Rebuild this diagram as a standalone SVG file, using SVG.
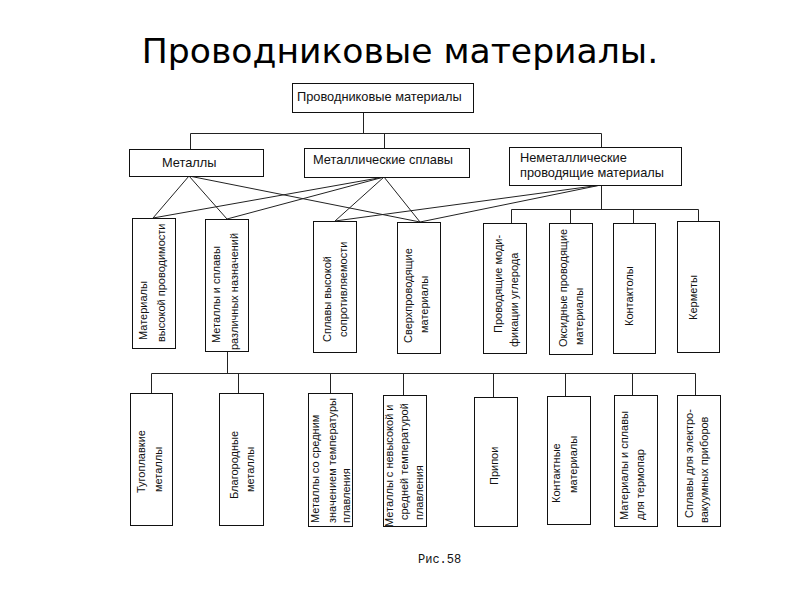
<svg xmlns="http://www.w3.org/2000/svg" width="800" height="600" viewBox="0 0 800 600">
<style>
.box{fill:#fff;stroke:#111;stroke-width:1}
.t{font-family:"Liberation Sans",Arial,sans-serif;font-size:12.8px;fill:#111}
.v{font-family:"Liberation Sans",Arial,sans-serif;font-size:11px;fill:#111}
.ln{stroke:#222;stroke-width:1;fill:none}
.title{font-family:"DejaVu Sans",sans-serif;font-size:34.6px;fill:#000}
.cap{font-family:"Liberation Mono","Courier New",monospace;font-size:12px;fill:#111}
</style>
<rect width="800" height="600" fill="#fff"/>
<text class="title" x="400" y="63" text-anchor="middle">Проводниковые материалы.</text>

<g id="connectors">
<path class="ln" d="M363.5 112V133.5M190.5 133.5H601.5M190.5 133.5V149M384.5 133.5V148M601.5 133.5V147"/>
<path class="ln" d="M189 176L153 218M189 176L227 219M189 176L420 222"/>
<path class="ln" d="M384 177L153 218M384 177L227 219M384 177L335 221M384 177L420 222"/>
<path class="ln" d="M601 185L335 221M601 185L420 222"/>
<path class="ln" d="M601.5 185V209.5M511.5 209.5H698.5M511.5 209.5V223M570.5 209.5V223M633.5 209.5V223M698.5 209.5V221"/>
<path class="ln" d="M227.5 351V373.5M151.5 373.5H695.5M151.5 373.5V393M238.5 373.5V393M330.5 373.5V393M403.5 373.5V395M493.5 373.5V397M565.5 373.5V396M632.5 373.5V395M695.5 373.5V395"/>
</g>

<g id="root">
<rect class="box" x="292.5" y="83.5" width="181" height="29"/>
<text class="t" x="297" y="101">Проводниковые материалы</text>
</g>
<g id="metals">
<rect class="box" x="129.5" y="149.5" width="134" height="27"/>
<text class="t" x="162" y="167">Металлы</text>
</g>
<g id="alloys">
<rect class="box" x="304.5" y="148.5" width="165" height="29"/>
<text class="t" x="313" y="164">Металлические сплавы</text>
</g>
<g id="nonmetal">
<rect class="box" x="509.5" y="147.5" width="172" height="38"/>
<text class="t" x="520" y="162">Неметаллические</text>
<text class="t" x="520" y="177">проводящие материалы</text>
</g>

<g id="m1">
<rect class="box" x="132.5" y="218.5" width="43" height="130"/>
<text class="v" transform="translate(147,340) rotate(-90)">Материалы</text>
<text class="v" transform="translate(165,342) rotate(-90)">высокой проводимости</text>
</g>
<g id="m2">
<rect class="box" x="205.5" y="219.5" width="43" height="132"/>
<text class="v" transform="translate(220,343) rotate(-90)">Металлы и сплавы</text>
<text class="v" transform="translate(238,350) rotate(-90)">различных назначений</text>
</g>
<g id="m3">
<rect class="box" x="313.5" y="221.5" width="43" height="131"/>
<text class="v" transform="translate(331,342) rotate(-90)">Сплавы высокой</text>
<text class="v" transform="translate(347,337) rotate(-90)">сопротивляемости</text>
</g>
<g id="m4">
<rect class="box" x="397.5" y="222.5" width="43" height="131"/>
<text class="v" transform="translate(412,343) rotate(-90)">Сверхпроводящие</text>
<text class="v" transform="translate(428,333) rotate(-90)">материалы</text>
</g>
<g id="m5">
<rect class="box" x="483.5" y="223.5" width="43" height="130"/>
<text class="v" transform="translate(502,333) rotate(-90)">Проводящие моди-</text>
<text class="v" transform="translate(518,347) rotate(-90)">фикации углерода</text>
</g>
<g id="m6">
<rect class="box" x="549.5" y="223.5" width="43" height="131"/>
<text class="v" transform="translate(567,347) rotate(-90)">Оксидные проводящие</text>
<text class="v" transform="translate(583,345) rotate(-90)">материалы</text>
</g>
<g id="m7">
<rect class="box" x="613.5" y="223.5" width="42" height="130"/>
<text class="v" transform="translate(633,326) rotate(-90)">Контактолы</text>
</g>
<g id="m8">
<rect class="box" x="677.5" y="221.5" width="42" height="131"/>
<text class="v" transform="translate(697,320) rotate(-90)">Керметы</text>
</g>

<g id="b1">
<rect class="box" x="130.5" y="393.5" width="42" height="132"/>
<text class="v" transform="translate(145,493) rotate(-90)">Тугоплавкие</text>
<text class="v" transform="translate(162,492) rotate(-90)">металлы</text>
</g>
<g id="b2">
<rect class="box" x="219.5" y="393.5" width="44" height="132"/>
<text class="v" transform="translate(238,499) rotate(-90)">Благородные</text>
<text class="v" transform="translate(254,492) rotate(-90)">металлы</text>
</g>
<g id="b3">
<rect class="box" x="308.5" y="393.5" width="44" height="133"/>
<text class="v" transform="translate(319,523) rotate(-90)">Металлы со средним</text>
<text class="v" transform="translate(336,523) rotate(-90)">значением температуры</text>
<text class="v" transform="translate(350,523) rotate(-90)">плавления</text>
</g>
<g id="b4">
<rect class="box" x="383.5" y="395.5" width="43" height="131"/>
<text class="v" transform="translate(393,527) rotate(-90)">Металлы с невысокой и</text>
<text class="v" transform="translate(408,520) rotate(-90)">средней температурой</text>
<text class="v" transform="translate(423,520) rotate(-90)">плавления</text>
</g>
<g id="b5">
<rect class="box" x="474.5" y="397.5" width="43" height="129"/>
<text class="v" transform="translate(498,485) rotate(-90)">Припои</text>
</g>
<g id="b6">
<rect class="box" x="547.5" y="396.5" width="43" height="128"/>
<text class="v" transform="translate(560,503) rotate(-90)">Контактные</text>
<text class="v" transform="translate(577,493) rotate(-90)">материалы</text>
</g>
<g id="b7">
<rect class="box" x="614.5" y="395.5" width="43" height="131"/>
<text class="v" transform="translate(628,520) rotate(-90)">Материалы и сплавы</text>
<text class="v" transform="translate(644,520) rotate(-90)">для термопар</text>
</g>
<g id="b8">
<rect class="box" x="677.5" y="395.5" width="43" height="131"/>
<text class="v" transform="translate(693,518) rotate(-90)">Сплавы для электро-</text>
<text class="v" transform="translate(708,523) rotate(-90)">вакуумных приборов</text>
</g>

<text class="cap" x="418" y="563">Рис.58</text>
</svg>
